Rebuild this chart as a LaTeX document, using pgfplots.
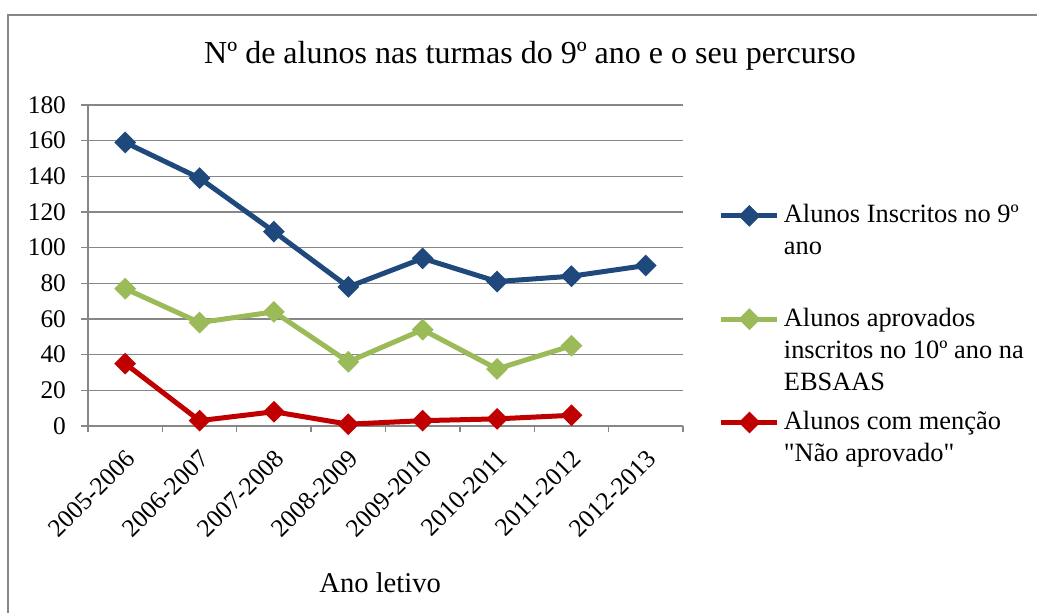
\documentclass[border=0pt]{standalone}
\usepackage{fontspec}
\setmainfont{Liberation Serif}
\usepackage{pgfplots}
\pgfplotsset{compat=1.18}

\definecolor{serblue}{HTML}{1F497D}
\definecolor{sergreen}{HTML}{9BBB59}
\definecolor{serred}{HTML}{C00000}
\definecolor{gridgray}{HTML}{878787}

\begin{document}
\begin{tikzpicture}
\useasboundingbox (0,0) rectangle (518.5pt,-306.5pt);
\draw[gridgray, line width=1pt] (4pt,-320pt) -- (4pt,-7.5pt) -- (530pt,-7.5pt);
\begin{axis}[
  at={(44pt,-213pt)}, anchor=south west,
  scale only axis, width=297.5pt, height=160.5pt,
  xmin=-0.5, xmax=7.5, ymin=0, ymax=180,
  axis x line*=bottom, axis y line*=left,
  axis line style={gridgray, line width=0.7pt, -},
  xtick={0,...,7},
  xticklabels={2005-2006,2006-2007,2007-2008,2008-2009,2009-2010,2010-2011,2011-2012,2012-2013},
  minor xtick={-0.5,0.5,...,7.5},
  major x tick style={draw=none},
  minor x tick style={gridgray, line width=0.7pt},
  ytick={0,20,...,180},
  ymajorgrids, grid style={gridgray, line width=0.7pt},
  y tick style={gridgray, line width=0.7pt},
  tick align=outside, major tick length=3.5pt, minor tick length=3pt,
  /pgf/number format/assume math mode=true,
  tick label style={font=\fontsize{12.7}{14}\selectfont},
  y tick label style={xshift=-4pt},
  x tick label style={rotate=45, anchor=north east, inner sep=1pt, yshift=-4pt, xshift=-4.5pt},
  title={Nº de alunos nas turmas do 9º ano e o seu percurso},
  title style={at={(0.743,1.115)}, anchor=center, font=\fontsize{16}{19}\selectfont},
  xlabel={Ano letivo},
  xlabel style={at={(0.491,-0.489)}, anchor=center, font=\fontsize{14.3}{17}\selectfont},
  legend style={at={(1.0597,0.7035)}, anchor=north west, draw=none, fill=none,
    font=\fontsize{13.2}{16}\selectfont, row sep=37pt,
    cells={anchor=base west}, inner sep=0pt},
  legend image code/.code={
    \draw[#1, mark=none, line width=2.5pt] (0pt,0.35em) -- (28pt,0.35em);
    \draw[#1, line width=2.5pt] plot coordinates {(14pt,0.35em)};},
  every axis plot/.append style={line width=2.5pt, mark=square*, mark size=2.6pt},
]
\addplot[color=serblue, mark options={rotate=45, solid, fill=serblue}] coordinates {
(0,159) (1,139) (2,109) (3,78) (4,94) (5,81) (6,84) (7,90)};
\addlegendentry{\parbox[t]{130pt}{\raggedright Alunos Inscritos no 9º ano}}
\addplot[color=sergreen, mark options={rotate=45, solid, fill=sergreen}] coordinates {
(0,77) (1,58) (2,64) (3,36) (4,54) (5,32) (6,45)};
\addlegendentry{\parbox[t]{130pt}{\raggedright Alunos aprovados inscritos no 10º ano na EBSAAS}}
\addplot[color=serred, mark options={rotate=45, solid, fill=serred}] coordinates {
(0,35) (1,3) (2,8) (3,1) (4,3) (5,4) (6,6)};
\addlegendentry{\parbox[t]{130pt}{\raggedright Alunos com menção \textquotedbl Não aprovado\textquotedbl}}
\end{axis}
\end{tikzpicture}
\end{document}
